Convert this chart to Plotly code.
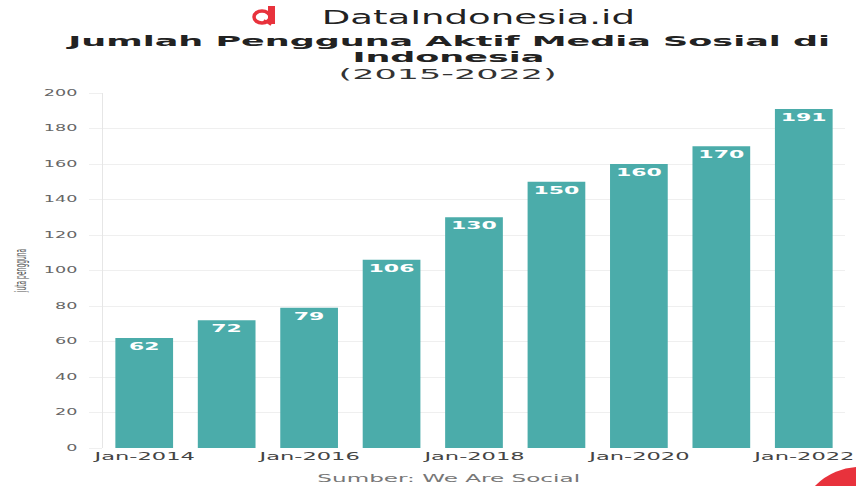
import plotly.graph_objects as go

# ---- data ----
years = [2014, 2015, 2016, 2017, 2018, 2019, 2020, 2021, 2022]
users = [62, 72, 79, 106, 130, 150, 160, 170, 191]
tick_years = [2014, 2016, 2018, 2020, 2022]
tick_labels = ["Jan-2014", "Jan-2016", "Jan-2018", "Jan-2020", "Jan-2022"]

brand = "DataIndonesia.id"
title_l1 = "Jumlah Pengguna Aktif Media Sosial di"
title_l2 = "Indonesia"
title_l3 = "(2015-2022)"
source = "Sumber: We Are Social"
ytitle = "juta pengguna"

W, H = 856, 486
L, R, T, B = 103, 11, 93, 38
PW, PH = W - L - R, H - T - B


def xp(px):
    return (px - L) / PW


def yp(py):
    return (H - B - py) / PH


FONT = "DejaVu Sans"
TEAL = "#4BACAA"
RED = "#E8323C"

fig = go.Figure()
fig.add_trace(go.Bar(
    x=years, y=users, width=0.7,
    marker=dict(color=TEAL, line=dict(width=0)),
    text=[str(v) for v in users], textposition="inside",
    insidetextanchor="end", textangle=0,
    textfont=dict(family=FONT, size=10, color="white", weight="bold"),
    hoverinfo="x+y",
))

annotations = [
    dict(text=brand, x=xp(479), y=yp(17), font=dict(family=FONT, size=19, color="#222")),
    dict(text="<b>" + title_l1 + "</b>", x=xp(448), y=yp(41), font=dict(family=FONT, size=14, color="#222")),
    dict(text="<b>" + title_l2 + "</b>", x=xp(448), y=yp(57.5), font=dict(family=FONT, size=14, color="#222")),
    dict(text=title_l3, x=xp(447), y=yp(74), font=dict(family=FONT, size=14, color="#333")),
    dict(text=source, x=xp(448), y=yp(478), font=dict(family=FONT, size=10.5, color="#777")),
]
for a in annotations:
    a.update(xref="paper", yref="paper", xanchor="center", yanchor="middle", showarrow=False)

shapes = [
    # logo: ring + stem
    dict(type="circle", xref="paper", yref="paper", x0=xp(254), x1=xp(270), y0=yp(23), y1=yp(11),
         line=dict(color=RED, width=3.5), fillcolor="rgba(0,0,0,0)"),
    dict(type="rect", xref="paper", yref="paper", x0=xp(268), x1=xp(275), y0=yp(24), y1=yp(6),
         line=dict(width=0), fillcolor=RED),
    dict(type="line", xref="paper", yref="paper", x0=xp(264), x1=xp(271), y0=yp(20), y1=yp(25),
         line=dict(color=RED, width=2)),
    # corner decoration
    dict(type="circle", xref="paper", yref="paper", x0=xp(797), x1=xp(923), y0=yp(593), y1=yp(467),
         line=dict(width=0), fillcolor=RED),
]

fig.update_layout(
    width=W, height=H,
    margin=dict(l=L, r=R, t=T, b=B, pad=0),
    paper_bgcolor="white", plot_bgcolor="white",
    showlegend=False,
    bargap=0.3,
    font=dict(family=FONT, color="#555"),
    annotations=annotations,
    shapes=shapes,
    xaxis=dict(
        range=[2013.5, 2022.5], tickmode="array", tickvals=tick_years, ticktext=tick_labels,
        tickfont=dict(family=FONT, size=11, color="#444"),
        showgrid=False, zeroline=False, showline=False, ticks="",
    ),
    yaxis=dict(
        range=[0, 200], dtick=20, tick0=0,
        tickfont=dict(family=FONT, size=8, color="#666"),
        gridcolor="#efefef", gridwidth=1, zeroline=False,
        showline=True, linecolor="#e6e6e6", linewidth=1,
        ticks="outside", ticklen=13, tickcolor="#efefef", ticklabelstandoff=10,
        title=dict(text=ytitle, font=dict(family=FONT, size=6, color="#555"), standoff=38),
    ),
)

post = r"""
(function(){
  var root = document.getElementById('{plot_id}');
  if (!root) return;
  root.querySelectorAll('text').forEach(function(t){
    if (t.getAttribute('data-sx')) return;
    var bb; try { bb = t.getBBox(); } catch(e) { return; }
    if (!bb || bb.width === 0) return;
    var tr = t.getAttribute('transform') || '';
    if (t.classList.contains('ytitle')) {
      var cy = bb.y + bb.height/2;
      t.setAttribute('transform', tr + ' translate(0,' + cy + ') scale(1,2.6) translate(0,' + (-cy) + ')');
      t.setAttribute('data-sx','1');
      return;
    }
    var fs = parseFloat(t.style.fontSize) || 12;
    var s;
    if (fs >= 18) s = 1.95;
    else if (fs >= 13.5) s = 2.5;
    else if (t.parentNode && t.parentNode.classList && t.parentNode.classList.contains('xtick')) s = 2.05;
    else s = 2.2;
    var a = t.getAttribute('text-anchor') || 'start';
    var cx = a === 'end' ? bb.x + bb.width : (a === 'middle' ? bb.x + bb.width/2 : bb.x);
    t.setAttribute('transform', tr + ' translate(' + cx + ',0) scale(' + s + ',1) translate(' + (-cx) + ',0)');
    t.setAttribute('data-sx', String(s));
  });
})();
"""

fig.write_html("out.html", config={"displayModeBar": False, "responsive": False}, post_script=post)
